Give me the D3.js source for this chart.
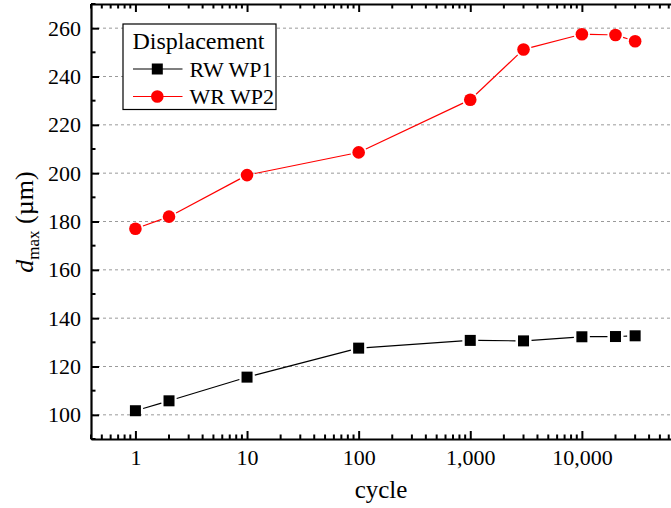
<!DOCTYPE html>
<html>
<head>
<meta charset="utf-8">
<script src="https://cdn.jsdelivr.net/npm/d3@7/dist/d3.min.js"></script>
<style>
  html, body { margin: 0; padding: 0; background: #fff; }
</style>
</head>
<body>
<svg id="chart" width="671" height="508" font-family="'Liberation Serif', 'DejaVu Serif', serif"></svg>
<script>
// cycle counts (log axis)
const cycles = [1, 2, 10, 100, 1000, 3000, 10000, 20000, 30000];
// maximum displacement, µm
const rwWP1 = [101.7, 105.8, 115.6, 127.6, 130.8, 130.6, 132.3, 132.4, 132.7];
const wrWP2 = [177.0, 182.0, 199.2, 208.6, 230.4, 251.2, 257.5, 257.2, 254.6];
const xTickValues = [1, 10, 100, 1000, 10000];
const yTickValues = [100, 120, 140, 160, 180, 200, 220, 240, 260];
const seriesNames = ["RW WP1", "WR WP2"];
const legendTitle = "Displacement";

(function () {
const FONT = "'Liberation Serif', 'DejaVu Serif', serif";
const svg = d3.select("#chart");
const pLeft = 91, pRight = 693.5, pTop = 4, pBottom = 439;

const x = d3.scaleLog().domain([0.4, 1e5]).range([pLeft, pRight]);
const y = d3.scaleLinear().domain([90, 270]).range([pBottom, pTop]);

// dashed horizontal grid
svg.append("g").selectAll("line").data(yTickValues).join("line")
  .attr("x1", pLeft).attr("x2", pRight)
  .attr("y1", d => y(d)).attr("y2", d => y(d))
  .attr("stroke", "#9a9a9a").attr("stroke-width", 1)
  .attr("stroke-dasharray", "3,3");

// minor ticks for log axis
const minorX = [];
for (let e = -1; e <= 5; e++) {
  for (let m = 2; m <= 9; m++) {
    const v = m * Math.pow(10, e);
    if (v >= 0.4 && v <= 1e5) minorX.push(v);
  }
}
const minorY = d3.range(90, 271, 10).filter(v => v % 20 !== 0);

// bottom axis
const xAxis = d3.axisBottom(x).tickValues(xTickValues).tickFormat(d3.format(","))
  .tickSizeInner(-8).tickSizeOuter(0).tickPadding(10);
const gx = svg.append("g").attr("transform", `translate(0,${pBottom})`).call(xAxis)
  .attr("font-family", FONT).attr("font-size", 22);
gx.selectAll(".tick line").attr("stroke-width", 2);
gx.selectAll("text").attr("fill", "#000");
gx.append("g").selectAll("line").data(minorX).join("line")
  .attr("x1", d => x(d)).attr("x2", d => x(d)).attr("y1", 0).attr("y2", -4.5)
  .attr("stroke", "#000").attr("stroke-width", 2);

// top axis (mirror, no labels)
const gt = svg.append("g").attr("transform", `translate(0,${pTop})`)
  .call(d3.axisTop(x).tickValues(xTickValues).tickFormat("").tickSizeInner(-8).tickSizeOuter(0));
gt.selectAll(".tick line").attr("stroke-width", 2);
gt.append("g").selectAll("line").data(minorX).join("line")
  .attr("x1", d => x(d)).attr("x2", d => x(d)).attr("y1", 0).attr("y2", 4.5)
  .attr("stroke", "#000").attr("stroke-width", 2);

// left axis
const yAxis = d3.axisLeft(y).tickValues(yTickValues).tickSizeInner(-8).tickSizeOuter(0).tickPadding(10);
const gy = svg.append("g").attr("transform", `translate(${pLeft},0)`).call(yAxis)
  .attr("font-family", FONT).attr("font-size", 22);
gy.selectAll(".tick line").attr("stroke-width", 2);
gy.selectAll("text").attr("fill", "#000");
gy.append("g").selectAll("line").data(minorY).join("line")
  .attr("x1", 0).attr("x2", 4.5).attr("y1", d => y(d)).attr("y2", d => y(d))
  .attr("stroke", "#000").attr("stroke-width", 2);

[gx, gt, gy].forEach(g => g.select(".domain").attr("stroke-width", 2.2).attr("stroke", "#000"));

// axis titles
svg.append("text").attr("x", 381).attr("y", 498).attr("font-family", FONT)
  .attr("text-anchor", "middle").attr("font-size", 25).text("cycle");

const yt = svg.append("text").attr("transform", "translate(33,222) rotate(-90)")
  .attr("font-family", FONT).attr("text-anchor", "middle").attr("font-size", 26);
yt.append("tspan").attr("font-style", "italic").text("d");
yt.append("tspan").attr("font-size", 17).attr("dy", 6).text("max");
yt.append("tspan").attr("dy", -6).text(" (\u00b5m)");

// series lines with small gaps at markers
function drawSeries(vals, color, gap) {
  const pts = cycles.map((c, i) => [x(c), y(vals[i])]);
  const g = svg.append("g");
  for (let i = 0; i < pts.length - 1; i++) {
    const [x1, y1] = pts[i], [x2, y2] = pts[i + 1];
    const len = Math.hypot(x2 - x1, y2 - y1);
    if (len <= 2 * gap) continue;
    const ux = (x2 - x1) / len, uy = (y2 - y1) / len;
    g.append("line")
      .attr("x1", x1 + ux * gap).attr("y1", y1 + uy * gap)
      .attr("x2", x2 - ux * gap).attr("y2", y2 - uy * gap)
      .attr("stroke", color).attr("stroke-width", 1.2);
  }
  return pts;
}

const blackPts = drawSeries(rwWP1, "#000", 8);
const redPts = drawSeries(wrWP2, "#ff0000", 8);

svg.append("g").selectAll("rect").data(blackPts).join("rect")
  .attr("x", d => d[0] - 5.5).attr("y", d => d[1] - 5.5)
  .attr("width", 11).attr("height", 11).attr("fill", "#000");
svg.append("g").selectAll("circle").data(redPts).join("circle")
  .attr("cx", d => d[0]).attr("cy", d => d[1]).attr("r", 6.3).attr("fill", "#ff0000");

// legend
const lg = svg.append("g").attr("font-family", FONT);
lg.append("rect").attr("x", 123).attr("y", 24).attr("width", 153).attr("height", 85.5)
  .attr("fill", "#fff").attr("stroke", "#000").attr("stroke-width", 1.2);
lg.append("text").attr("x", 132.5).attr("y", 48.5).attr("font-size", 24).text(legendTitle);
[0, 1].forEach(i => {
  const cy = 69 + i * 27.5;
  const color = i === 0 ? "#000" : "#ff0000";
  lg.append("line").attr("x1", 133).attr("x2", 182.5).attr("y1", cy).attr("y2", cy)
    .attr("stroke", color).attr("stroke-width", 1.2);
  if (i === 0) {
    lg.append("rect").attr("x", 157.3 - 5.5).attr("y", cy - 5.5).attr("width", 11).attr("height", 11).attr("fill", "#000");
  } else {
    lg.append("circle").attr("cx", 157.3).attr("cy", cy).attr("r", 6.3).attr("fill", "#ff0000");
  }
  lg.append("text").attr("x", 189.5).attr("y", cy + 7.5).attr("font-size", 22).text(seriesNames[i]);
});
})();
</script>
</body>
</html>
